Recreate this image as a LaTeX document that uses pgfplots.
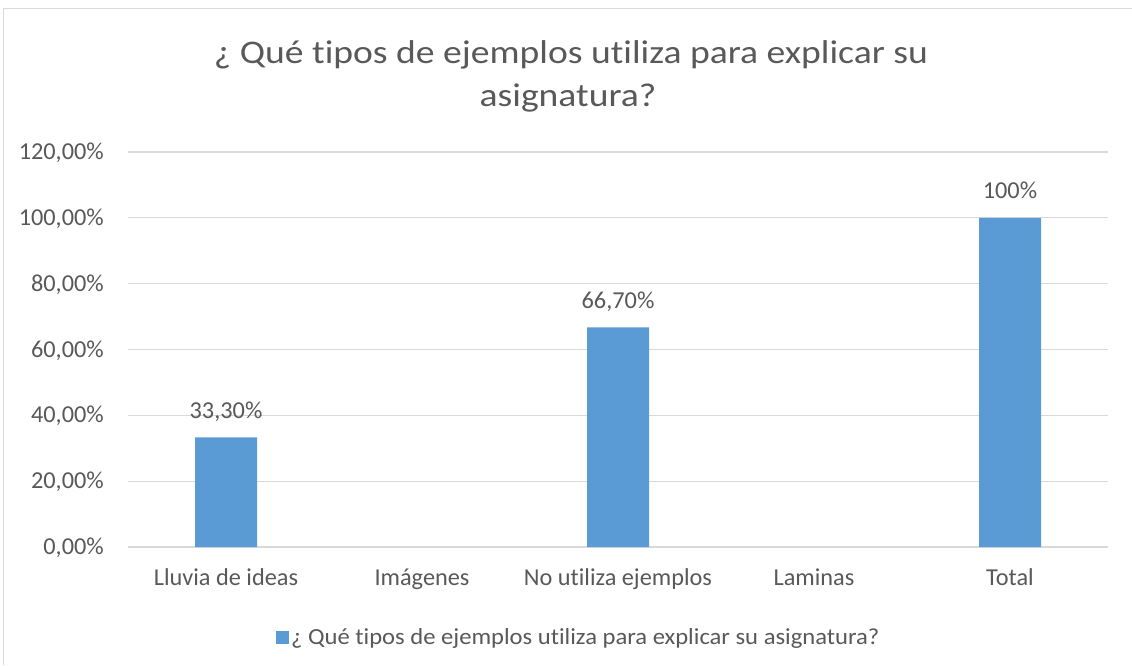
\documentclass[border=0pt]{standalone}
\usepackage{pgfplots}
\pgfplotsset{compat=1.18}
\usepackage{fontspec}
\setmainfont[Ligatures=NoCommon]{Carlito}
\newfontfamily\titlefont[FakeStretch=1.14,Ligatures=NoCommon]{Carlito}
\newfontfamily\legfont[FakeStretch=1.07,Ligatures=NoCommon]{Carlito}
\definecolor{barblue}{HTML}{5B9BD5}
\definecolor{txtgray}{HTML}{595959}
\definecolor{gridgray}{HTML}{D9D9D9}
\begin{document}
\begin{tikzpicture}[x=1pt,y=1pt]
\useasboundingbox (0,0) rectangle (1132,665);
\fill[white] (0,0) rectangle (1132,665);
\draw[gridgray, line width=1.3pt] (3.5,0) -- (3.5,656.5) -- (1132,656.5);
\node[anchor=base, text=txtgray, font=\titlefont\fontsize{33}{39}\selectfont] at (571,601) {¿ Qué tipos de ejemplos utiliza para explicar su};
\node[anchor=base, text=txtgray, font=\titlefont\fontsize{33}{39}\selectfont] at (568,558) {asignatura?};
\begin{axis}[
  at={(128pt,118pt)}, anchor=south west,
  scale only axis, width=980pt, height=395pt,
  xmin=-0.5, xmax=4.5, ymin=0, ymax=120,
  axis line style={draw=none},
  ymajorgrids, grid style={gridgray, line width=1.3pt},
  major tick length=0pt,
  xtick={0,1,2,3,4},
  xticklabels={Lluvia de ideas, Imágenes, No utiliza ejemplos, Laminas, Total},
  ytick={0,20,40,60,80,100,120},
  yticklabels={0{,}00\%,20{,}00\%,40{,}00\%,60{,}00\%,80{,}00\%,100{,}00\%,120{,}00\%},
  ticklabel style={text=txtgray, font=\fontsize{24.3}{28}\selectfont, inner sep=0pt},
  xticklabel style={anchor=base, yshift=-38pt},
  yticklabel style={anchor=base east, xshift=-24pt, yshift=-7.6pt},
  ybar, bar width=62pt,
  point meta=explicit symbolic,
  nodes near coords,
  nodes near coords style={anchor=base, yshift=19pt, inner sep=0pt, text=txtgray, font=\fontsize{24.3}{28}\selectfont},
  legend style={at={(0.46,-0.228)}, anchor=center, draw=none, fill=none,
     font=\legfont\fontsize{23}{27}\selectfont, text=txtgray, inner sep=0pt},
  legend image code/.code={\fill[barblue] (0pt,-6.5pt) rectangle (13pt,6.5pt);},
]
\addplot[fill=barblue, draw=none] coordinates {(0,33.3) [33,30\%] (2,66.7) [66,70\%] (4,100) [100\%]};
\addlegendentry{¿ Qué tipos de ejemplos utiliza para explicar su asignatura?}
\end{axis}
\end{tikzpicture}
\end{document}
